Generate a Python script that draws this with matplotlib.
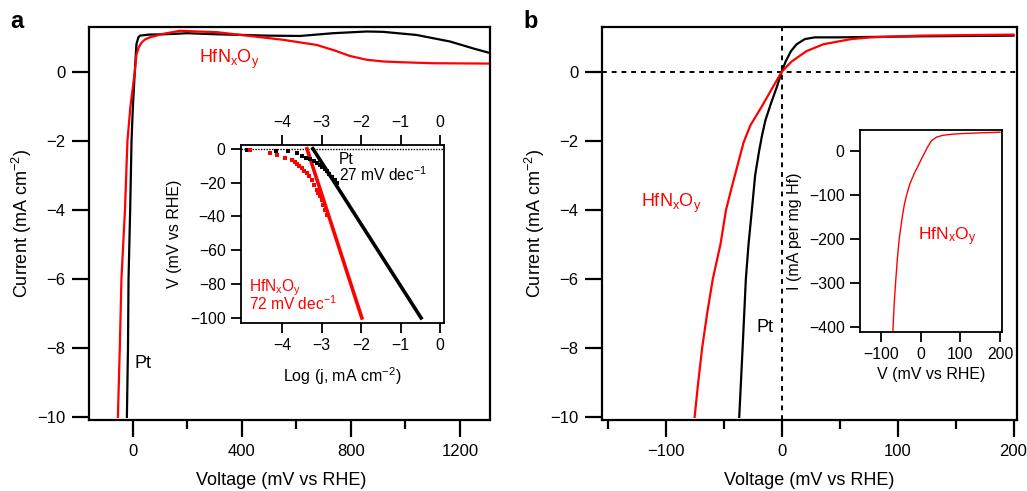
import matplotlib
matplotlib.use("Agg")
import matplotlib.pyplot as plt
from matplotlib.ticker import MultipleLocator, FixedLocator

plt.rcParams['font.family'] = ['Liberation Sans', 'DejaVu Sans']
plt.rcParams['mathtext.fontset'] = 'custom'
plt.rcParams['mathtext.rm'] = 'Liberation Sans'
plt.rcParams['mathtext.it'] = 'Liberation Sans:italic'
plt.rcParams['mathtext.default'] = 'regular'

RED = '#ff0000'

# ---------------- Panel a : wide range LSV ----------------
a_pt_v = [-22, -18, -16, -10, -5, 0, 7, 13, 20, 26, 60, 120, 200, 300, 400, 490, 613, 734, 858, 917, 1040, 1163, 1248, 1303]
a_pt_i = [-10, -8, -6, -4, -2, -1, 0, 0.8, 1.0, 1.05, 1.08, 1.09, 1.12, 1.09, 1.07, 1.05, 1.04, 1.12, 1.17, 1.16, 1.07, 0.88, 0.68, 0.56]

a_hf_v = [-55, -48, -42, -29, -20, -9, 7, 13, 22, 32, 45, 62, 110, 172, 308, 429, 550, 674, 740, 796, 858, 920, 980, 1101, 1303]
a_hf_i = [-10, -8, -6, -4, -2, -1, 0, 0.5, 0.72, 0.85, 0.94, 1.0, 1.1, 1.19, 1.15, 1.04, 0.93, 0.78, 0.62, 0.46, 0.35, 0.30, 0.28, 0.25, 0.24]

# ---------------- Inset a : Tafel ----------------
ta_pt_logj = [-4.90, -4.15, -3.84, -3.63, -3.50, -3.40, -3.29, -3.20, -3.12, -3.05, -2.98, -2.92, -2.87, -2.80, -2.73, -2.66, -2.60]
ta_pt_v    = [-0.6, -1.2, -1.6, -2.6, -4.5, -5.2, -5.9, -7.2, -8.3, -9.5, -10.9, -12.2, -13.4, -15.0, -16.6, -18.3, -20.2]
ta_pt_fit_logj = [-3.22, -0.48]
ta_pt_fit_v    = [0, -100]

ta_hf_logj = [-4.81, -4.30, -4.13, -3.92, -3.75, -3.68, -3.63, -3.56, -3.50, -3.44, -3.38, -3.32, -3.25, -3.19, -3.12, -3.08, -3.04, -3.00, -2.96, -2.91, -2.87]
ta_hf_v    = [-0.8, -2.6, -3.6, -5.5, -6.9, -7.9, -8.9, -10.1, -11.4, -12.9, -14.4, -16.2, -18.3, -21.2, -24.3, -26.3, -28.2, -30.2, -33.0, -36.0, -39.0]
ta_hf_fit_logj = [-3.37, -1.98]
ta_hf_fit_v    = [0, -100]
ta_ticks = [-4, -3, -2, -1, 0]

# ---------------- Panel b : zoomed LSV ----------------
b_pt_v = [-36.6, -33.7, -30.9, -28.6, -25.7, -22.9, -19.5, -17.0, -14.0, -9.1, -4.3, 0, 3.4, 8, 12.9, 20, 28.6, 50, 120, 200]
b_pt_i = [-10, -8, -6, -5, -4, -3, -2.3, -1.85, -1.4, -0.9, -0.45, 0, 0.3, 0.6, 0.8, 0.95, 1.0, 1.0, 1.03, 1.05]

b_hf_v = [-75.1, -72, -68.6, -64.3, -59.4, -52.8, -48, -43.5, -38, -32.9, -27, -17.1, -8.6, 0, 8.6, 21.4, 36, 60, 77, 120, 200]
b_hf_i = [-10, -9, -8, -7, -6, -5, -4, -3.4, -2.7, -2.05, -1.55, -1, -0.5, 0, 0.3, 0.6, 0.8, 0.95, 1.0, 1.05, 1.08]

# ---------------- Inset b : mass activity ----------------
ib_v = [-70.9, -67.5, -64.1, -59.9, -54.9, -47.3, -42, -36.3, -27.8, -16.9, -4.2, 5.9, 16, 27, 40, 56, 80, 107, 150, 200]
ib_i = [-410, -346, -300, -248, -200, -150, -122, -100, -74, -51, -28, -10, 8, 24, 32, 36, 38.5, 40, 41.5, 43]

W, H = 1027, 491
fig = plt.figure(figsize=(W / 100, H / 100), dpi=100)


def px_axes(l, t, r, b):
    return fig.add_axes([l / W, 1 - b / H, (r - l) / W, (b - t) / H])


def style_main(ax):
    for s in ax.spines.values():
        s.set_linewidth(1.6)
    ax.tick_params(which='major', direction='out', length=12, width=1.6, labelsize=12, pad=5)
    ax.tick_params(which='minor', direction='out', length=6.5, width=1.6)
    ax.tick_params(axis='y', which='minor', left=False)


def style_inset(ax):
    for s in ax.spines.values():
        s.set_linewidth(1.3)
    ax.tick_params(which='major', direction='out', length=7, width=1.3, labelsize=11.3, pad=4)


# ===== Panel a =====
axa = px_axes(89, 27, 490, 420)
axa.plot(a_pt_v, a_pt_i, color='black', lw=1.6)
axa.plot(a_hf_v, a_hf_i, color=RED, lw=1.6)
axa.set_xlim(-161, 1310)
axa.set_ylim(-10.09, 1.3)
axa.xaxis.set_major_locator(MultipleLocator(400))
axa.xaxis.set_minor_locator(MultipleLocator(200))
axa.yaxis.set_major_locator(MultipleLocator(2))
style_main(axa)
axa.set_xlabel('Voltage (mV vs RHE)', fontsize=13)
axa.set_ylabel('Current (mA cm$^{-2}$)', fontsize=13)
axa.xaxis.set_label_coords(0.48, -0.133)
axa.yaxis.set_label_coords(-0.137, 0.5)
axa.text(242, 0.27, 'HfN$_x$O$_y$', color=RED, fontsize=13, ha='left', va='baseline')
axa.text(5, -8.45, 'Pt', color='black', fontsize=13, ha='left', va='center')
fig.text(10 / W, 1 - 22 / H, 'a', fontsize=17, fontweight='bold', ha='left', va='center')

# ===== Inset a =====
ia = px_axes(241, 145, 444, 323)
ia.axhline(0, color='black', lw=1.0, ls=(0, (1, 1)))
ia.plot(ta_pt_fit_logj, ta_pt_fit_v, color='black', lw=2.6)
ia.plot(ta_hf_fit_logj, ta_hf_fit_v, color=RED, lw=2.6)
ia.plot(ta_pt_logj, ta_pt_v, ls='none', marker='s', ms=2.8, mew=0, color='black')
ia.plot(ta_hf_logj, ta_hf_v, ls='none', marker='s', ms=2.8, mew=0, color=RED)
ia.set_xlim(-5.04, 0.1)
ia.set_ylim(-103, 2.2)
ia.xaxis.set_major_locator(FixedLocator(ta_ticks))
ia.yaxis.set_major_locator(MultipleLocator(20))
style_inset(ia)
ia.tick_params(axis='x', top=True, labeltop=True)
ia.set_xlabel('Log (j, mA cm$^{-2}$)', fontsize=11.5)
ia.set_ylabel('V (mV vs RHE)', fontsize=11.5)
ia.xaxis.set_label_coords(0.5, -0.235)
ia.yaxis.set_label_coords(-0.29, 0.5)
ia.text(-2.56, -8.8, 'Pt', color='black', fontsize=11.2, ha='left', va='baseline')
ia.text(-2.55, -19.2, '27 mV dec$^{-1}$', color='black', fontsize=11.2, ha='left', va='baseline')
ia.text(-4.85, -84.0, 'HfN$_x$O$_y$', color=RED, fontsize=11.2, ha='left', va='baseline')
ia.text(-4.85, -95.6, '72 mV dec$^{-1}$', color=RED, fontsize=11.2, ha='left', va='baseline')

# ===== Panel b =====
axb = px_axes(602, 27, 1017, 420)
axb.axhline(0, color='black', lw=1.4, ls=(0, (2.5, 2.5)), zorder=1)
axb.axvline(0, color='black', lw=1.4, ls=(0, (2.5, 2.5)), zorder=1)
axb.plot(b_pt_v, b_pt_i, color='black', lw=1.6, zorder=2)
axb.plot(b_hf_v, b_hf_i, color=RED, lw=1.6, zorder=2)
axb.set_xlim(-155, 203)
axb.set_ylim(-10.09, 1.3)
axb.xaxis.set_major_locator(MultipleLocator(100))
axb.xaxis.set_minor_locator(MultipleLocator(50))
axb.yaxis.set_major_locator(MultipleLocator(2))
style_main(axb)
axb.set_xlabel('Voltage (mV vs RHE)', fontsize=13)
axb.set_ylabel('Current (mA cm$^{-2}$)', fontsize=13)
axb.xaxis.set_label_coords(0.5, -0.133)
axb.yaxis.set_label_coords(-0.132, 0.5)
axb.text(-121.7, -3.92, 'HfN$_x$O$_y$', color=RED, fontsize=13, ha='left', va='baseline')
axb.text(-21.4, -7.53, 'Pt', color='black', fontsize=13, ha='left', va='baseline', zorder=3,
         bbox=dict(facecolor='white', edgecolor='none', pad=3))
fig.text(523 / W, 1 - 22 / H, 'b', fontsize=17, fontweight='bold', ha='left', va='center')

# ===== Inset b =====
ib = px_axes(860, 130, 1002, 332)
ib.plot(ib_v, ib_i, color=RED, lw=1.0)
ib.set_xlim(-154, 205)
ib.set_ylim(-411, 48)
ib.xaxis.set_major_locator(MultipleLocator(100))
ib.yaxis.set_major_locator(MultipleLocator(100))
style_inset(ib)
ib.set_xlabel('V (mV vs RHE)', fontsize=11.5)
ib.set_ylabel('I (mA per mg Hf)', fontsize=11.5)
ib.xaxis.set_label_coords(0.5, -0.173)
ib.yaxis.set_label_coords(-0.41, 0.5)
ib.text(-6.8, -203, 'HfN$_x$O$_y$', color=RED, fontsize=12.5, ha='left', va='baseline')

fig.savefig('out.png', dpi=100)
